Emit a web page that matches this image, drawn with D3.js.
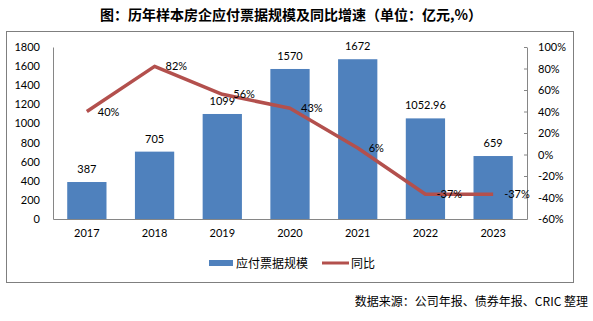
<!DOCTYPE html>
<html><head><meta charset="utf-8">
<script src="https://cdn.jsdelivr.net/npm/d3@7"></script>
<style>
body{margin:0;background:#fff;}
svg{display:block;}
</style></head>
<body><svg id="c" width="593" height="321"></svg>
<script>
const categories = ["2017","2018","2019","2020","2021","2022","2023"];
const billValues = [387, 705, 1099, 1570, 1672, 1052.96, 659];
const billLabels = ["387","705","1099","1570","1672","1052.96","659"];
const yoyValues = [40, 82, 56, 43, 6, -37, -37];
const leftTicks = [0,200,400,600,800,1000,1200,1400,1600,1800];
const rightTicks = [-60,-40,-20,0,20,40,60,80,100];
const titleText = "图：历年样本房企应付票据规模及同比增速（单位：亿元,%）";
const legendNames = ["应付票据规模","同比"];
const sourceText = "数据来源：公司年报、债券年报、CRIC 整理";

const svg = d3.select("#c");
const numFont = "Lato, 'Noto Sans', sans-serif";
const cjkFont = "'Noto Sans CJK SC', sans-serif";
const barColor = "#4F81BD", lineColor = "#B3504D", axisColor = "#868686";

const x0 = 53, x1 = 527, yTop = 47, yBot = 219;
const x = d3.scaleBand().domain(categories).range([x0, x1]).paddingInner(0.42).paddingOuter(0.21);
const yL = d3.scaleLinear().domain([0,1800]).range([yBot, yTop]);
const yR = d3.scaleLinear().domain([-60,100]).range([yBot, yTop]);

// title
svg.append("text").attr("x", 291).attr("y", 20).attr("text-anchor","middle")
  .attr("font-family", cjkFont).attr("font-weight","bold").attr("font-size",14)
  .attr("fill","#000").text(titleText);

// frame
svg.append("rect").attr("x",6.5).attr("y",31.5).attr("width",567).attr("height",251)
  .attr("fill","none").attr("stroke","#7f7f7f").attr("stroke-width",1);

// left axis
const gL = svg.append("g").attr("transform",`translate(${x0},0)`)
  .call(d3.axisLeft(yL).tickValues(leftTicks).tickFormat(d3.format("d")).tickSize(0).tickPadding(13));
gL.select(".domain").attr("stroke",axisColor);
gL.selectAll("text").attr("font-family",numFont).attr("font-size",11).attr("fill","#000");

// right axis
const gR = svg.append("g").attr("transform",`translate(${x1},0)`)
  .call(d3.axisRight(yR).tickValues(rightTicks).tickFormat(d=>d+"%").tickSizeInner(-3).tickSizeOuter(0).tickPadding(11));
gR.select(".domain").attr("stroke",axisColor);
gR.selectAll("line").attr("stroke",axisColor);
gR.selectAll("text").attr("font-family",numFont).attr("font-size",11).attr("fill","#000");

// bars
svg.append("g").selectAll("rect").data(categories).join("rect")
  .attr("x",d=>x(d)).attr("width",x.bandwidth())
  .attr("y",(d,i)=>yL(billValues[i])).attr("height",(d,i)=>yBot-yL(billValues[i]))
  .attr("fill",barColor);

// bottom axis
const gB = svg.append("g").attr("transform",`translate(0,${yBot})`)
  .call(d3.axisBottom(x).tickSize(0).tickPadding(10).tickSizeOuter(0));
gB.select(".domain").attr("stroke",axisColor);
gB.selectAll("text").attr("font-family",numFont).attr("font-size",11).attr("fill","#000");

// bar labels
svg.append("g").selectAll("text").data(categories).join("text")
  .attr("x",d=>x(d)+x.bandwidth()/2).attr("y",(d,i)=>yL(billValues[i])-9)
  .attr("text-anchor","middle").attr("font-family",numFont).attr("font-size",11).attr("fill","#000")
  .text((d,i)=>billLabels[i]);

// line
const cx = d=>x(d)+x.bandwidth()/2;
svg.append("path").datum(categories)
  .attr("d", d3.line().x(d=>cx(d)).y((d,i)=>yR(yoyValues[i])))
  .attr("fill","none").attr("stroke",lineColor).attr("stroke-width",3.5).attr("stroke-linejoin","round");

// line labels
svg.append("g").selectAll("text").data(categories).join("text")
  .attr("x",d=>cx(d)+11).attr("y",(d,i)=>yR(yoyValues[i])+4)
  .attr("font-family",numFont).attr("font-size",11).attr("fill","#000")
  .text((d,i)=>yoyValues[i]+"%");

// legend
const lg = svg.append("g");
lg.append("rect").attr("x",209).attr("y",260).attr("width",24).attr("height",6).attr("fill",barColor);
lg.append("text").attr("x",236).attr("y",267.5).attr("font-family",cjkFont).attr("font-size",12).attr("fill","#000").text(legendNames[0]);
lg.append("line").attr("x1",322).attr("x2",349).attr("y1",263).attr("y2",263).attr("stroke",lineColor).attr("stroke-width",3);
lg.append("text").attr("x",351).attr("y",267.5).attr("font-family",cjkFont).attr("font-size",12).attr("fill","#000").text(legendNames[1]);

// source
svg.append("text").attr("x",588).attr("y",306).attr("text-anchor","end")
  .attr("font-family",cjkFont).attr("font-size",12).attr("fill","#000").text(sourceText);
</script></body></html>
